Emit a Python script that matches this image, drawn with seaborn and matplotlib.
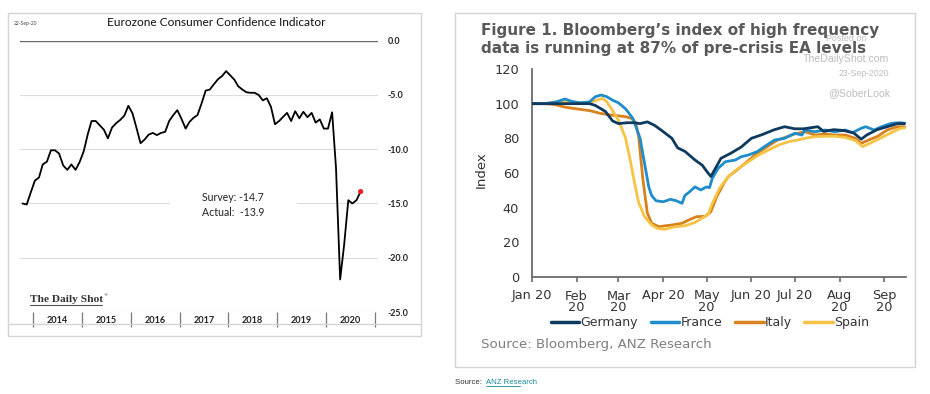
import numpy as np
import pandas as pd
import matplotlib
matplotlib.use("Agg")
import matplotlib.pyplot as plt
import matplotlib.dates as mdates
from matplotlib.patches import Rectangle
from matplotlib.lines import Line2D
import seaborn as sns

# ---------------- data: Eurozone consumer confidence (monthly, Oct 2013 - Sep 2020)
cc_start = "2013-10-01"
cc_end = "2020-09-01"
cc_values = [
    -15.0, -15.1, -14.0,
    -12.9, -12.6, -11.4, -11.15, -10.1, -10.1, -10.4, -11.5, -11.9, -11.4, -11.9, -11.2,
    -10.2, -8.6, -7.4, -7.4, -7.8, -8.2, -9.0, -8.0, -7.6, -7.3, -6.9, -6.0,
    -6.7, -8.1, -9.45, -9.1, -8.65, -8.5, -8.7, -8.5, -8.4, -7.4, -6.85, -6.4,
    -7.2, -8.1, -7.5, -7.1, -6.85, -5.75, -4.6, -4.5, -4.0, -3.55, -3.25, -2.8,
    -3.2, -3.6, -4.2, -4.5, -4.75, -4.8, -4.8, -5.0, -5.5, -5.3, -6.1, -7.7,
    -7.4, -7.0, -6.65, -7.4, -6.5, -7.15, -6.55, -7.05, -6.65, -7.55, -7.25, -8.1,
    -8.1, -6.6, -11.7, -22.0, -18.8, -14.7, -15.0, -14.7, -13.9,
]
cc_yticks = [0, -5, -10, -15, -20, -25]
cc_years = [2014, 2015, 2016, 2017, 2018, 2019, 2020]
survey_txt = "Survey: -14.7"
actual_txt = "Actual:  -13.9"

# ---------------- data: Bloomberg high-frequency index (2020)
de_dates = ["2020-01-01","2020-01-16","2020-01-31","2020-02-10","2020-02-14","2020-02-21","2020-02-26",
            "2020-03-01","2020-03-07","2020-03-12","2020-03-16","2020-03-21","2020-03-26","2020-03-31",
            "2020-04-07","2020-04-11","2020-04-16","2020-04-23","2020-04-28","2020-05-02","2020-05-04",
            "2020-05-06","2020-05-11","2020-05-18","2020-05-25","2020-06-01","2020-06-08","2020-06-17",
            "2020-06-24","2020-07-01","2020-07-07","2020-07-17","2020-07-21","2020-07-28","2020-08-04",
            "2020-08-11","2020-08-16","2020-08-20","2020-08-27","2020-09-03","2020-09-10","2020-09-15"]
de_values = [100, 100, 100, 100, 99, 95.5, 90, 88.5, 89, 89, 88.5, 89.5, 87.5, 84.5, 80, 74.5, 72.5,
             67.5, 64.5, 60, 58, 61, 68.5, 71.5, 75, 80, 82, 85, 86.7, 85.5, 85.5, 86.7, 84, 85, 84.5,
             83, 79.5, 82, 85, 86.7, 88.5, 88.5]

fr_dates = ["2020-01-01","2020-01-10","2020-01-18","2020-01-24","2020-01-28","2020-02-03","2020-02-10",
            "2020-02-14","2020-02-18","2020-02-22","2020-02-26","2020-03-01","2020-03-06","2020-03-11",
            "2020-03-16","2020-03-19","2020-03-22","2020-03-24","2020-03-27","2020-04-01","2020-04-06",
            "2020-04-10","2020-04-14","2020-04-16","2020-04-19","2020-04-23","2020-04-27","2020-05-01",
            "2020-05-03","2020-05-05","2020-05-09","2020-05-14","2020-05-21","2020-05-25","2020-05-30",
            "2020-06-05","2020-06-10","2020-06-17","2020-06-24","2020-07-01","2020-07-06","2020-07-08",
            "2020-07-15","2020-07-22","2020-07-29","2020-08-05","2020-08-10","2020-08-16","2020-08-19",
            "2020-08-25","2020-08-30","2020-09-06","2020-09-12","2020-09-15"]
fr_values = [100, 100, 101, 102.7, 101.5, 100.5, 101, 104, 105, 104, 102, 100.5, 97, 91.5, 80, 66, 52,
             47, 44, 43.4, 44.8, 44, 42.5, 47, 49, 52, 50.2, 52, 51.5, 57, 62.7, 66.5, 67.5, 69.4, 70.4,
             72.3, 75.2, 79, 80, 82.9, 81.9, 84.8, 83.8, 84.8, 83.8, 84.8, 83.3, 85.8, 86.7, 84.8, 86.7,
             88.7, 89, 88.7]

it_dates = ["2020-01-01","2020-01-10","2020-01-17","2020-01-24","2020-02-01","2020-02-10","2020-02-17",
            "2020-02-24","2020-03-01","2020-03-06","2020-03-10","2020-03-13","2020-03-15","2020-03-18",
            "2020-03-21","2020-03-24","2020-03-29","2020-04-02","2020-04-07","2020-04-14","2020-04-19",
            "2020-04-24","2020-04-30","2020-05-04","2020-05-08","2020-05-13","2020-05-16","2020-05-22",
            "2020-05-29","2020-06-05","2020-06-12","2020-06-19","2020-06-26","2020-07-01","2020-07-08",
            "2020-07-15","2020-07-22","2020-07-29","2020-08-05","2020-08-12","2020-08-16","2020-08-21",
            "2020-08-27","2020-09-03","2020-09-10","2020-09-15"]
it_values = [100, 100, 99.5, 98, 97, 96, 94.5, 93.5, 93, 92.5, 91.5, 89, 81, 56, 37, 31, 29, 29.5, 30,
             31, 33, 34.8, 35, 37.7, 46.3, 54.1, 57.9, 61.7, 66.5, 71.4, 75.2, 79, 81, 82.5, 83.8, 81.9,
             82.5, 81.9, 81.9, 80, 77.1, 79, 81, 84.8, 86.7, 86.7]

es_dates = ["2020-01-01","2020-01-10","2020-01-20","2020-02-01","2020-02-10","2020-02-15","2020-02-19",
            "2020-02-22","2020-02-26","2020-03-01","2020-03-06","2020-03-09","2020-03-12","2020-03-15",
            "2020-03-19","2020-03-24","2020-03-28","2020-04-02","2020-04-09","2020-04-16","2020-04-23",
            "2020-04-28","2020-05-02","2020-05-05","2020-05-10","2020-05-16","2020-05-23","2020-05-30",
            "2020-06-06","2020-06-13","2020-06-20","2020-06-27","2020-07-03","2020-07-08","2020-07-15",
            "2020-07-22","2020-07-29","2020-08-05","2020-08-12","2020-08-17","2020-08-22","2020-08-29",
            "2020-09-05","2020-09-12","2020-09-15"]
es_values = [100, 100, 101.3, 100.5, 100.5, 102, 103, 101, 96, 90.5, 80, 68, 55, 43, 35, 30, 28, 27.5,
             29, 29.5, 31.5, 34, 36, 42.5, 51.2, 57.9, 62.7, 66.5, 70.4, 73.3, 76.2, 78.1, 79, 80, 81,
             81.2, 81.2, 80.5, 78.7, 75.2, 77.1, 80, 82.9, 85.8, 86]

countries = ["Germany", "France", "Italy", "Spain"]
colors = {"Germany": "#0e3a5f", "France": "#1f8ccb", "Italy": "#d8811d", "Spain": "#f6c344"}
month_ticks = ["2020-01-01","2020-02-01","2020-03-01","2020-04-01","2020-05-01",
               "2020-06-01","2020-07-01","2020-08-01","2020-09-01"]
month_labels = ["Jan 20", "Feb\n20", "Mar\n20", "Apr 20", "May\n20",
                "Jun 20", "Jul 20", "Aug\n20", "Sep\n20"]
hf_yticks = [0, 20, 40, 60, 80, 100, 120]

# ---------------- figure
sns.set_theme(style="white")
plt.rcParams["font.family"] = ["DejaVu Sans"]
W, H = 930, 394
fig = plt.figure(figsize=(W / 100, H / 100), dpi=100)
fig.patch.set_facecolor("white")

def fx(px):
    return px / W

def fy(py):
    return 1 - py / H

# panel borders
fig.add_artist(Rectangle((fx(8), fy(336)), fx(413), (336 - 13) / H, transform=fig.transFigure,
                         fill=False, edgecolor="#d4d4d4", lw=1.0))
fig.add_artist(Line2D([fx(8), fx(421)], [fy(324), fy(324)], transform=fig.transFigure,
                      color="#d4d4d4", lw=1.0))
fig.add_artist(Rectangle((fx(455), fy(367)), fx(460), (367 - 13) / H, transform=fig.transFigure,
                         fill=False, edgecolor="#d4d4d4", lw=1.0))

# ================= left chart
LF = "Lato"
axL = fig.add_axes([fx(20), fy(312), fx(358), (312 - 40.7) / H])
cc_df = pd.DataFrame({
    "date": pd.date_range(cc_start, cc_end, freq="MS") + pd.Timedelta(days=14),
    "value": cc_values,
})
sns.lineplot(data=cc_df, x="date", y="value", ax=axL, color="black", lw=1.3, zorder=5)
sns.scatterplot(data=cc_df.tail(1), x="date", y="value", ax=axL, color="#e8231f",
                s=14, edgecolor="none", zorder=6)
axL.set_xlim(pd.Timestamp("2013-09-26"), pd.Timestamp("2021-01-23"))
axL.set_ylim(-25, 0)
axL.set_yticks(cc_yticks)
axL.set_yticklabels([f"{v:.1f}" for v in cc_yticks], fontfamily=LF, fontweight="bold",
                    fontsize=6.4, color="#222222")
axL.yaxis.tick_right()
axL.tick_params(axis="y", length=0, pad=7)
axL.grid(axis="y", color="#dedede", lw=0.8)
axL.axhline(0, color="#6b6b6b", lw=1.0, zorder=3)
for s in axL.spines.values():
    s.set_visible(False)
axL.set_xlabel("")
axL.set_ylabel("")
# year separators (major) and year labels (minor)
axL.set_xticks([pd.Timestamp(f"{y}-01-01") for y in cc_years + [2021]])
axL.set_xticklabels([])
axL.tick_params(axis="x", which="major", length=10.5, width=0.9, color="#7a7a7a",
                direction="out", bottom=True)
axL.set_xticks([pd.Timestamp(f"{y}-07-02") for y in cc_years], minor=True)
axL.set_xticklabels([str(y) for y in cc_years], minor=True, fontfamily=LF,
                    fontweight="bold", fontsize=6.6, color="#222222")
axL.tick_params(axis="x", which="minor", length=0, pad=3)
# white gap behind annotation
axL.add_patch(Rectangle(((170 - 20) / 358, (312 - 208) / 271.3), (297 - 170) / 358, 10 / 271.3,
                        transform=axL.transAxes, facecolor="white", edgecolor="none", zorder=4))
fig.text(fx(202), fy(198), survey_txt, fontfamily=LF, fontsize=7.6, color="#222222", va="center")
fig.text(fx(202), fy(213), actual_txt, fontfamily=LF, fontsize=7.6, color="#222222", va="center")
fig.text(fx(216), fy(23), "Eurozone Consumer Confidence Indicator", fontfamily=LF, fontsize=8.6,
         color="#111111", ha="center", va="center")
fig.text(fx(14), fy(23), "22-Sep-20", fontfamily=LF, fontsize=3.6, color="#444444", va="center")
fig.text(fx(30), fy(302), "The Daily Shot", fontfamily="Liberation Serif", fontsize=8.2,
         fontweight="bold", color="#333333", va="baseline")
fig.text(fx(103), fy(296), "®", fontfamily="DejaVu Sans", fontsize=3.2, color="#333333",
         va="baseline")
fig.add_artist(Line2D([fx(30), fx(102)], [fy(305), fy(305)], transform=fig.transFigure,
                      color="#555555", lw=0.8))

# ================= right chart
axR = fig.add_axes([fx(531.7), fy(277), fx(374.3), 208 / H])
series = {
    "Germany": (de_dates, de_values),
    "France": (fr_dates, fr_values),
    "Italy": (it_dates, it_values),
    "Spain": (es_dates, es_values),
}
frames = []
for c in countries:
    d, v = series[c]
    frames.append(pd.DataFrame({"date": pd.to_datetime(d), "value": v, "country": c}))
hf_df = pd.concat(frames, ignore_index=True)
z = {"Italy": 2, "Spain": 3, "France": 4, "Germany": 5}
for c in ["Italy", "Spain", "France", "Germany"]:
    sns.lineplot(data=hf_df[hf_df["country"] == c], x="date", y="value", ax=axR,
                 color=colors[c], lw=2.0, zorder=z[c], legend=False)
axR.set_xlim(pd.Timestamp("2020-01-01"), pd.Timestamp("2020-09-16"))
axR.set_ylim(0, 120)
axR.set_yticks(hf_yticks)
axR.set_yticklabels([str(v) for v in hf_yticks], fontsize=9.3, color="#333333")
axR.set_xticks(pd.to_datetime(month_ticks))
axR.set_xticklabels(month_labels, fontsize=9.3, color="#333333", linespacing=0.85)
axR.tick_params(axis="y", length=0, pad=9)
axR.tick_params(axis="x", length=3.5, width=1.2, color="#6b6b6b", direction="out",
                bottom=True, pad=5.5)
for k in ["top", "right"]:
    axR.spines[k].set_visible(False)
for k in ["left", "bottom"]:
    axR.spines[k].set_color("#6b6b6b")
    axR.spines[k].set_linewidth(1.3)
axR.set_xlabel("")
axR.set_ylabel("Index", fontsize=9.6, color="#333333", labelpad=8)
axR.yaxis.set_label_coords(-(531.7 - 488) / 374.3, (277 - 170) / 208)
axR.set_facecolor("none")

# watermark (partly behind the title, as in the source)
wm = "#bdbdbd"
fig.text(fx(846), fy(41), "Posted on", fontfamily="Liberation Sans", fontsize=6.4, color=wm,
         ha="center", va="baseline", zorder=1)
fig.text(fx(889), fy(62.5), "TheDailyShot.com", fontfamily="Liberation Sans", fontsize=7.6,
         color=wm, ha="right", va="baseline", zorder=1)
fig.text(fx(889), fy(75.5), "23-Sep-2020", fontfamily="Liberation Sans", fontsize=6.3, color=wm,
         ha="right", va="baseline", zorder=1)
fig.text(fx(890), fy(96.5), "@SoberLook", fontfamily="Liberation Sans", fontsize=7.6, color=wm,
         ha="right", va="baseline", zorder=1)

# title
fig.text(fx(481), fy(35), "Figure 1. Bloomberg\u2019s index of high frequency", fontsize=11,
         fontweight="bold", color="#595959", va="baseline", zorder=3)
fig.text(fx(481), fy(53.5), "data is running at 87% of pre-crisis EA levels", fontsize=11,
         fontweight="bold", color="#595959", va="baseline", zorder=3)

# legend
handles = [Line2D([0], [0], color=colors[c], lw=2.5) for c in countries]
fig.legend(handles, countries, loc="center", bbox_to_anchor=(fx(710), fy(322.5)), ncol=4,
           frameon=False, fontsize=9.0, handlelength=2.3, handletextpad=0.1,
           columnspacing=1.0, borderpad=0, labelcolor="#333333")

fig.text(fx(481), fy(348), "Source: Bloomberg, ANZ Research", fontsize=9.6, color="#7f7f7f",
         va="baseline")

# bottom source line
fig.text(fx(455), fy(384), "Source: ", fontfamily="Liberation Sans", fontsize=5.6, color="#333333",
         va="baseline")
fig.text(fx(486), fy(384), "ANZ Research", fontfamily="Liberation Sans", fontsize=5.6,
         color="#1b8a9a", va="baseline")
fig.add_artist(Line2D([fx(486), fx(520)], [fy(385.5), fy(385.5)], transform=fig.transFigure,
                      color="#1b8a9a", lw=0.6))

fig.savefig("out.png", dpi=100, facecolor="white")
